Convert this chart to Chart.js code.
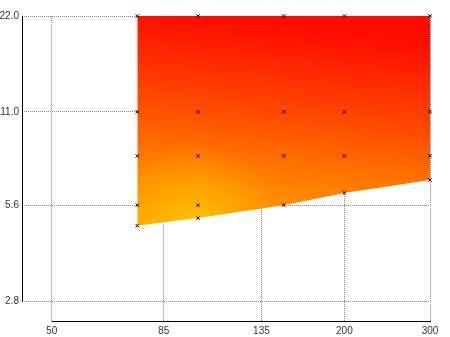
<!DOCTYPE html>
<html>
<head>
<meta charset="utf-8">
<script src="https://cdn.jsdelivr.net/npm/chart.js@4"></script>
<style>
  html, body { margin: 0; padding: 0; background: #fff; }
  #wrap { width: 450px; height: 337px; }
</style>
</head>
<body>
<div id="wrap"><canvas id="chart" width="450" height="337"></canvas></div>
<script>
// tick labels
var xTicks = [50, 85, 135, 200, 300];
var yTicks = [2.8, 5.6, 11.0, 22.0];

// lower edge of the shaded region (top edge is 22)
var edgeX = [75, 100, 150, 200, 300];
var edgeY = [4.83, 5.1, 5.6, 6.12, 6.72];

// x markers
var markX = [75, 75, 75, 75, 75, 100, 100, 100, 100, 100, 150, 150, 150, 150, 200, 200, 200, 200, 300, 300, 300, 300];
var markY = [22, 11, 8, 5.6, 4.83, 22, 11, 8, 5.6, 5.1, 22, 11, 8, 5.6, 22, 11, 8, 6.12, 22, 11, 8, 6.72];

function pts(xs, ys) {
  var out = [];
  for (var i = 0; i < xs.length; i++) out.push({x: xs[i], y: ys[i]});
  return out;
}

var fillCache = null;

// red at the top, orange lower down, with a yellow glow near the bottom left
function fillPattern(context) {
  var chart = context.chart;
  var a = chart.chartArea;
  if (!a) return '#ff6000';
  if (fillCache) return fillCache;
  var cv = document.createElement('canvas');
  cv.width = chart.width;
  cv.height = chart.height;
  var c = cv.getContext('2d');
  var w = a.right - a.left, h = a.bottom - a.top;

  var g = c.createLinearGradient(a.left + w * 0.43, a.top + h * 0.705, a.left + w * 0.49, a.top);
  g.addColorStop(0.00, 'rgb(255,168,0)');
  g.addColorStop(0.08, 'rgb(255,155,0)');
  g.addColorStop(0.20, 'rgb(255,138,0)');
  g.addColorStop(0.34, 'rgb(255,116,0)');
  g.addColorStop(0.45, 'rgb(255,96,0)');
  g.addColorStop(0.56, 'rgb(255,78,0)');
  g.addColorStop(0.68, 'rgb(255,58,0)');
  g.addColorStop(0.80, 'rgb(255,40,0)');
  g.addColorStop(0.90, 'rgb(255,24,0)');
  g.addColorStop(1.00, 'rgb(255,12,0)');
  c.fillStyle = g;
  c.fillRect(0, 0, cv.width, cv.height);

  var gx = a.left + w * 0.42, gy = a.top + h * 0.7;
  var r = c.createRadialGradient(gx, gy, 0, gx, gy, w * 0.22);
  r.addColorStop(0, 'rgba(255,200,0,0.95)');
  r.addColorStop(0.5, 'rgba(255,190,0,0.45)');
  r.addColorStop(1, 'rgba(255,180,0,0)');
  c.fillStyle = r;
  c.fillRect(0, 0, cv.width, cv.height);

  fillCache = chart.ctx.createPattern(cv, 'no-repeat');
  return fillCache;
}

// solid axis lines, drawn only between the first and last tick
var axisLines = {
  id: 'axisLines',
  afterDraw: function (chart) {
    var c = chart.ctx, a = chart.chartArea;
    var xs = chart.scales.x, ys = chart.scales.y;
    c.save();
    c.strokeStyle = '#000';
    c.lineWidth = 1;
    c.beginPath();
    c.moveTo(a.left + 0.5, ys.getPixelForValue(yTicks[yTicks.length - 1]));
    c.lineTo(a.left + 0.5, ys.getPixelForValue(yTicks[0]) + 1);
    c.moveTo(xs.getPixelForValue(xTicks[0]), a.bottom - 0.5);
    c.lineTo(xs.getPixelForValue(xTicks[xTicks.length - 1]) + 1, a.bottom - 0.5);
    c.stroke();
    c.restore();
  }
};

new Chart(document.getElementById('chart'), {
  type: 'line',
  data: {
    datasets: [
      {
        data: pts(edgeX, edgeY),
        order: 2,
        fill: 'end',
        backgroundColor: fillPattern,
        borderWidth: 0,
        borderColor: 'rgba(0,0,0,0)',
        pointRadius: 0,
        tension: 0
      },
      {
        data: pts(markX, markY),
        order: 1,
        showLine: false,
        pointStyle: 'crossRot',
        pointRadius: 2.5,
        pointBorderColor: '#000',
        pointBackgroundColor: '#000',
        pointBorderWidth: 1,
        clip: false
      }
    ]
  },
  options: {
    responsive: false,
    animation: false,
    layout: { padding: { top: 16, right: 20, left: 0, bottom: 0 } },
    plugins: { legend: { display: false }, tooltip: { enabled: false } },
    scales: {
      x: {
        type: 'logarithmic',
        min: 43.44,
        max: 300,
        z: 1,
        afterBuildTicks: function (s) { s.ticks = xTicks.map(function (v) { return {value: v}; }); },
        afterFit: function (s) { s.height = 15; },
        border: { display: false, dash: [1, 1] },
        grid: { color: '#888', drawTicks: false, lineWidth: 1 },
        ticks: {
          padding: 3,
          color: '#333',
          font: { family: 'Liberation Sans', size: 10 },
          maxRotation: 0,
          autoSkip: false,
          callback: function (v) { return String(v); }
        }
      },
      y: {
        type: 'logarithmic',
        min: 2.406,
        max: 22,
        z: 1,
        afterBuildTicks: function (s) { s.ticks = yTicks.map(function (v) { return {value: v}; }); },
        afterFit: function (s) { s.width = 22; },
        border: { display: false, dash: [1, 1] },
        grid: { color: '#888', drawTicks: false, lineWidth: 1 },
        ticks: {
          padding: 3,
          color: '#333',
          font: { family: 'Liberation Sans', size: 10 },
          autoSkip: false,
          callback: function (v) { return Number(v).toFixed(1); }
        }
      }
    }
  },
  plugins: [axisLines]
});
</script>
</body>
</html>
